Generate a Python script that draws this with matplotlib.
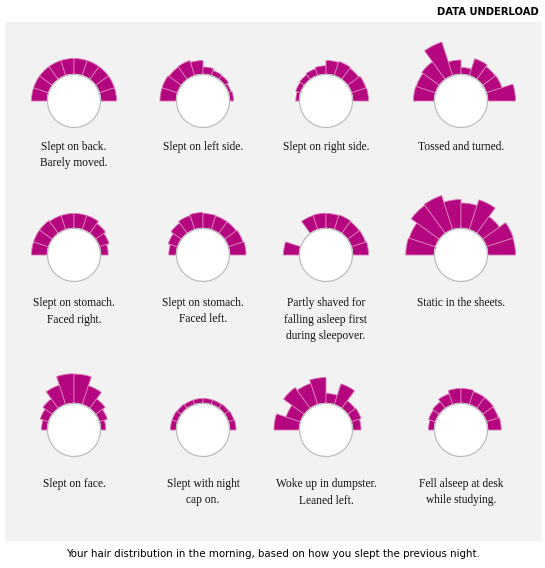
import numpy as np
import matplotlib
matplotlib.use("Agg")
import matplotlib.pyplot as plt
from matplotlib.patches import Rectangle

# hair length per 18-degree sector, left (180 deg) to right (0 deg), in pixels beyond the head
back = [16, 16, 16, 16, 16, 16, 16, 16, 16, 16]
left_side = [16.5, 16.5, 15.5, 16, 14, 7.5, 5.5, 5, 3, 4]
right_side = [3.7, 5.3, 6, 7.4, 8.7, 14, 15, 14, 15.5, 16]
tossed = [21, 20.5, 22, 35.5, 14.5, 7, 18, 16, 16.5, 28]
stomach_right = [16, 16, 16, 15, 15, 15, 15, 12.4, 10.3, 7.7]
stomach_left = [7.7, 10, 13, 15, 16, 15, 14.5, 14.5, 15.5, 16.5]
shaved = [16, 0, 0, 15, 15.3, 15, 15.5, 14.7, 15, 16]
static = [28.7, 28, 35, 36, 29, 25.5, 31.5, 21, 28.5, 28]
face = [6, 9, 12, 20.7, 29.7, 29.4, 20, 12, 8.5, 5.3]
night_cap = [6, 6, 5.5, 5, 5, 5, 5, 5.5, 6, 6.5]
dumpster = [25.5, 15.5, 26, 22.5, 26, 10, 22, 9.6, 10.3, 8.5]
desk = [6, 7.5, 8.5, 11.5, 15, 15, 13.7, 13.5, 12.8, 13.7]

series = [back, left_side, right_side, tossed,
          stomach_right, stomach_left, shaved, static,
          face, night_cap, dumpster, desk]
titles = ["Slept on back.\nBarely moved.", "Slept on left side.", "Slept on right side.", "Tossed and turned.",
          "Slept on stomach.\nFaced right.", "Slept on stomach.\nFaced left.",
          "Partly shaved for\nfalling asleep first\nduring sleepover.", "Static in the sheets.",
          "Slept on face.", "Slept with night\ncap on.", "Woke up in dumpster.\nLeaned left.",
          "Fell alseep at desk\nwhile studying."]

W, H = 545, 568
col_x = [74, 203, 326, 461]
row_y = [101, 255, 430]
title_y = [141, 297, 478]
head_r = 26.5
half = 65
magenta = "#b3067f"

fig = plt.figure(figsize=(W / 100, H / 100), dpi=100)
fig.patches.append(Rectangle((5 / W, 1 - 540 / H), 535 / W, 518 / H,
                             transform=fig.transFigure, color="#f2f2f2", zorder=-5))

theta = np.deg2rad(180 - 9 - 18 * np.arange(10))
ring = np.linspace(0, 2 * np.pi, 200)
for i, vals in enumerate(series):
    cx = col_x[i % 4]
    cy = row_y[i // 4]
    ax = fig.add_axes([(cx - half) / W, 1 - (cy + half) / H, 2 * half / W, 2 * half / H],
                      projection="polar")
    ax.bar(theta, vals, width=np.deg2rad(18), bottom=head_r, color=magenta,
           edgecolor="#dc7ab8", linewidth=0.6, align="center")
    ax.fill(ring, np.full_like(ring, head_r), color="white", zorder=3)
    ax.plot(ring, np.full_like(ring, head_r), color="#bbbbbb", linewidth=0.9, zorder=4)
    ax.set_ylim(0, half)
    ax.set_axis_off()
    fig.text(cx / W, 1 - title_y[i // 4] / H, titles[i], ha="center", va="top",
             fontsize=8.3, family="Liberation Serif", linespacing=1.5, color="#111111")

fig.text(539 / W, 1 - 12 / H, "DATA UNDERLOAD", ha="right", va="center",
         fontsize=8, fontweight="bold", family="DejaVu Sans", fontstretch="condensed")
fig.text(273 / W, 1 - 554 / H,
         "Your hair distribution in the morning, based on how you slept the previous night.",
         ha="center", va="center", fontsize=8.2, family="DejaVu Sans", fontstretch="condensed")

fig.savefig("out.png", dpi=100, facecolor="white")
